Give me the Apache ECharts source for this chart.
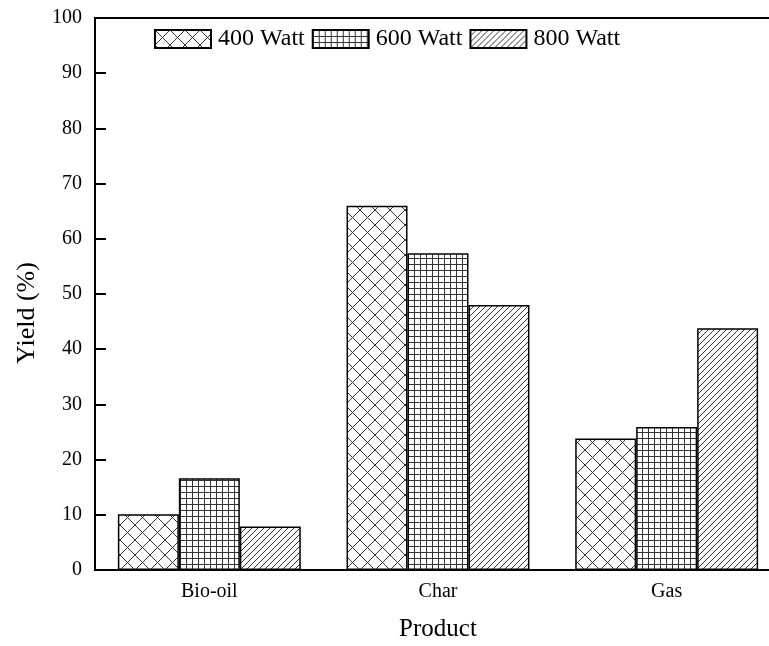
<!DOCTYPE html>
<html>
<head>
<meta charset="utf-8">
<script src="https://cdn.jsdelivr.net/npm/echarts@6/dist/echarts.min.js"></script>
<style>
html,body{margin:0;padding:0;background:#fff;}
#main{width:769px;height:646px;}
</style>
</head>
<body>
<div id="main"></div>
<script>
// Data
var categories = ['Bio-oil', 'Char', 'Gas'];
var seriesNames = ['400 Watt', '600 Watt', '800 Watt'];
var watt400 = [10.1, 66.0, 23.8];
var watt600 = [16.6, 57.4, 25.9];
var watt800 = [7.9, 48.0, 43.8];
var yTicks = [0, 10, 20, 30, 40, 50, 60, 70, 80, 90, 100];

var FONT = '"Liberation Serif", "Times New Roman", serif';

function makePattern(kind) {
  var c = document.createElement('canvas');
  var ctx;
  if (kind === 'cross') {
    var s = 15;
    c.width = s; c.height = s;
    ctx = c.getContext('2d');
    ctx.fillStyle = '#fff'; ctx.fillRect(0, 0, s, s);
    ctx.strokeStyle = '#333'; ctx.lineWidth = 1;
    ctx.beginPath();
    ctx.moveTo(0, 0); ctx.lineTo(s, s);
    ctx.moveTo(s, 0); ctx.lineTo(0, s);
    ctx.stroke();
  } else if (kind === 'grid') {
    var g = 6;
    c.width = g; c.height = g;
    ctx = c.getContext('2d');
    ctx.fillStyle = '#fff'; ctx.fillRect(0, 0, g, g);
    ctx.fillStyle = '#333';
    ctx.fillRect(0, 0, 1, g);
    ctx.fillRect(0, 0, g, 1);
  } else {
    var d = 6;
    c.width = d; c.height = d;
    ctx = c.getContext('2d');
    ctx.fillStyle = '#fff'; ctx.fillRect(0, 0, d, d);
    ctx.strokeStyle = '#333'; ctx.lineWidth = 1;
    ctx.beginPath();
    ctx.moveTo(-1, d + 1); ctx.lineTo(d + 1, -1);
    ctx.moveTo(-1, 1); ctx.lineTo(1, -1);
    ctx.moveTo(d - 1, d + 1); ctx.lineTo(d + 1, d - 1);
    ctx.stroke();
  }
  return { image: c, repeat: 'repeat' };
}

var patterns = [makePattern('cross'), makePattern('grid'), makePattern('diag')];
var dataSets = [watt400, watt600, watt800];

var chart = echarts.init(document.getElementById('main'), null, { renderer: 'canvas' });

var series = seriesNames.map(function (name, i) {
  return {
    name: name,
    type: 'bar',
    data: dataSets[i],
    barGap: '0%',
    barCategoryGap: '20%',
    itemStyle: {
      color: patterns[i],
      borderColor: '#000',
      borderWidth: 1.5
    },
    emphasis: { disabled: true }
  };
});

chart.setOption({
  animation: false,
  backgroundColor: '#fff',
  textStyle: { fontFamily: FONT },
  grid: {
    left: 95, top: 18, width: 686, height: 552,
    containLabel: false,
    outerBoundsMode: 'none',
    show: true, borderColor: '#000', borderWidth: 2
  },
  legend: {
    data: seriesNames,
    left: 149, top: 22,
    itemWidth: 56, itemHeight: 18,
    itemGap: 7,
    icon: 'rect',
    textStyle: { fontFamily: FONT, fontSize: 24, color: '#000', padding: [0, 0, 0, 2] }
  },
  xAxis: {
    type: 'category',
    data: categories,
    name: 'Product',
    nameLocation: 'middle',
    nameGap: 47,
    nameTextStyle: { fontFamily: FONT, fontSize: 25, color: '#000' },
    axisLine: { lineStyle: { color: '#000', width: 2 } },
    axisTick: { show: true, alignWithLabel: true, inside: true, length: 6, lineStyle: { color: '#000', width: 2 } },
    axisLabel: { fontFamily: FONT, fontSize: 20, color: '#000', margin: 12 }
  },
  yAxis: {
    type: 'value',
    min: yTicks[0], max: yTicks[yTicks.length - 1], interval: 10,
    name: 'Yield (%)',
    nameLocation: 'middle',
    nameGap: 55,
    nameTextStyle: { fontFamily: FONT, fontSize: 26, color: '#000', padding: [0, 38, 0, 0] },
    axisLine: { show: true, lineStyle: { color: '#000', width: 2 } },
    axisTick: { show: true, inside: true, length: 11, lineStyle: { color: '#000', width: 2 } },
    axisLabel: { fontFamily: FONT, fontSize: 20, color: '#000', margin: 13 },
    splitLine: { show: false }
  },
  series: series
});
</script>
</body>
</html>
